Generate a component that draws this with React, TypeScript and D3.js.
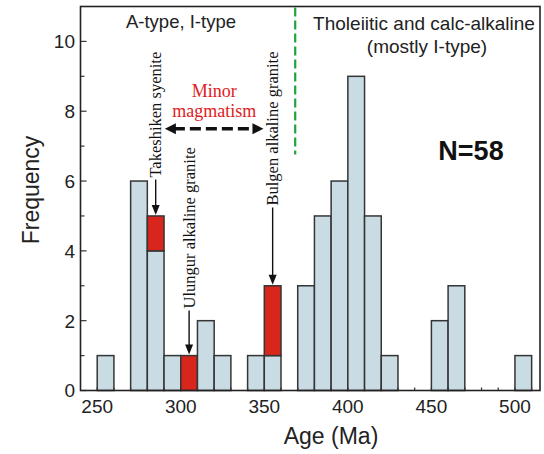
import React from 'react';
import * as d3 from 'd3';

// 10 Ma bins, start age of each bin
const ages = [250, 260, 270, 280, 290, 300, 310, 320, 330, 340, 350, 360, 370, 380, 390, 400, 410, 420, 430, 440, 450, 460, 470, 480, 490, 500];
const blueCounts = [1, 0, 6, 4, 1, 0, 2, 1, 0, 1, 1, 0, 3, 5, 6, 9, 5, 1, 0, 0, 2, 3, 0, 0, 0, 1];
const redCounts = [0, 0, 0, 1, 0, 1, 0, 0, 0, 0, 2, 0, 0, 0, 0, 0, 0, 0, 0, 0, 0, 0, 0, 0, 0, 0];

const xTickLabels = [250, 300, 350, 400, 450, 500];
const yTickLabels = [0, 2, 4, 6, 8, 10];

// vertical annotations: label, bin centre age, red bar top, where the text starts (count)
const sampleNames = ['Takeshiken syenite', 'Ulungur alkaline granite', 'Bulgen alkaline granite'];
const sampleAges = [285, 305, 355];
const sampleTops = [5, 1, 3];
const sampleTextStart = [6.1, 2.35, 5.3];

const boundaryAge = 368.5;

const sans = '"Liberation Sans", Arial, Helvetica, sans-serif';
const serif = '"Liberation Serif", "Times New Roman", serif';

export default function App() {
  const width = 544, height = 454;
  const margin = { top: 6.5, right: 4, bottom: 63.5, left: 80.5 };

  const x = d3.scaleLinear().domain([240, 515]).range([margin.left, width - margin.right]);
  const y = d3.scaleLinear().domain([0, 11]).range([height - margin.bottom, margin.top]);

  const fill = '#c9dbe3';
  const stroke = '#353535';
  const red = '#d9261c';

  const bars: any[] = [];
  ages.forEach((a, i) => {
    const b = blueCounts[i], r = redCounts[i];
    if (b > 0) {
      bars.push(<rect key={'b' + a} x={x(a)} y={y(b)} width={x(a + 10) - x(a)} height={y(0) - y(b)}
        fill={fill} stroke={stroke} strokeWidth={1.5} />);
    }
    if (r > 0) {
      bars.push(<rect key={'r' + a} x={x(a)} y={y(b + r)} width={x(a + 10) - x(a)} height={y(b) - y(b + r)}
        fill={red} stroke={stroke} strokeWidth={1.5} />);
    }
  });

  const yTicks = d3.range(0, 11, 1);
  const xMinor = d3.range(250, 520, 10);

  const arrowDown = (cx: number, ty: number, key: string) => {
    const px = x(cx), py = y(ty) - 1;
    return <path key={key} d={`M${px},${py} L${px - 4},${py - 10} L${px + 4},${py - 10} Z`} fill="#111" />;
  };

  const ay = y(7.5);
  const ax0 = x(290.5), ax1 = x(349.5);

  return (
    <svg width={width} height={height} style={{ position: 'absolute', left: 0, top: 0, background: '#fff' }}>
      <rect x={0} y={0} width={width} height={height} fill="#fff" />

      {bars}

      {/* inner x ticks */}
      {xMinor.map(v => (
        <line key={'xt' + v} x1={x(v)} x2={x(v)} y1={y(0)} y2={y(0) - 3} stroke={stroke} strokeWidth={1.2} />
      ))}

      {/* inner y ticks */}
      {yTicks.map(v => (
        <line key={'yt' + v} x1={margin.left} x2={margin.left + (v % 2 === 0 ? 6 : 4)} y1={y(v)} y2={y(v)}
          stroke={stroke} strokeWidth={1.2} />
      ))}

      {/* frame */}
      <rect x={margin.left} y={margin.top} width={width - margin.right - margin.left}
        height={y(0) - margin.top} fill="none" stroke="#222" strokeWidth={1.6} />

      {yTickLabels.map(v => (
        <text key={'yl' + v} x={75} y={y(v)} dy="0.36em" textAnchor="end" fontFamily={sans} fontSize={19} fill="#222">{v}</text>
      ))}
      {xTickLabels.map(v => (
        <text key={'xl' + v} x={x(v)} y={413} textAnchor="middle" fontFamily={sans} fontSize={19} fill="#222">{v}</text>
      ))}

      <text x={331} y={444} textAnchor="middle" fontFamily={sans} fontSize={23} fill="#222">Age (Ma)</text>
      <text transform={`translate(39,${190}) rotate(-90)`} textAnchor="middle" fontFamily={sans} fontSize={23} fill="#222">Frequency</text>

      {/* boundary */}
      <line x1={x(boundaryAge)} x2={x(boundaryAge)} y1={margin.top + 1} y2={y(6.76)} stroke="#1fa33c" strokeWidth={2.2} strokeDasharray="9 4" />

      <text x={181} y={28} textAnchor="middle" fontFamily={sans} fontSize={18.5} fill="#222">A-type, I-type</text>
      <text x={424} y={30} textAnchor="middle" fontFamily={sans} fontSize={19} fill="#222">Tholeiitic and calc-alkaline</text>
      <text x={427} y={53} textAnchor="middle" fontFamily={sans} fontSize={19} fill="#222">(mostly I-type)</text>
      <text x={471} y={160} textAnchor="middle" fontFamily={sans} fontSize={27} fontWeight="bold" fill="#111">N=58</text>

      {/* minor magmatism */}
      <text x={x(320)} y={97} textAnchor="middle" fontFamily={serif} fontSize={18} fill="#e0201b">Minor</text>
      <text x={x(320)} y={117} textAnchor="middle" fontFamily={serif} fontSize={18} fill="#e0201b">magmatism</text>
      <line x1={ax0 + 9} x2={ax1 - 9} y1={ay} y2={ay} stroke="#111" strokeWidth={3.5} strokeDasharray="11 5" />
      <path d={`M${ax0},${ay} L${ax0 + 11},${ay - 5.5} L${ax0 + 11},${ay + 5.5} Z`} fill="#111" />
      <path d={`M${ax1},${ay} L${ax1 - 11},${ay - 5.5} L${ax1 - 11},${ay + 5.5} Z`} fill="#111" />

      {/* sample labels with arrows */}
      {sampleNames.map((name, i) => {
        const px = x(sampleAges[i]);
        const ty = y(sampleTextStart[i]);
        return (
          <g key={name}>
            <text transform={`translate(${px},${ty}) rotate(-90)`} dy="0.35em" textAnchor="start"
              fontFamily={serif} fontSize={16.5} fill="#111">{name}</text>
            <line x1={px} x2={px} y1={ty + 2} y2={y(sampleTops[i]) - 9} stroke="#111" strokeWidth={1.4} />
            {arrowDown(sampleAges[i], sampleTops[i], 'a' + i)}
          </g>
        );
      })}
    </svg>
  );
}
